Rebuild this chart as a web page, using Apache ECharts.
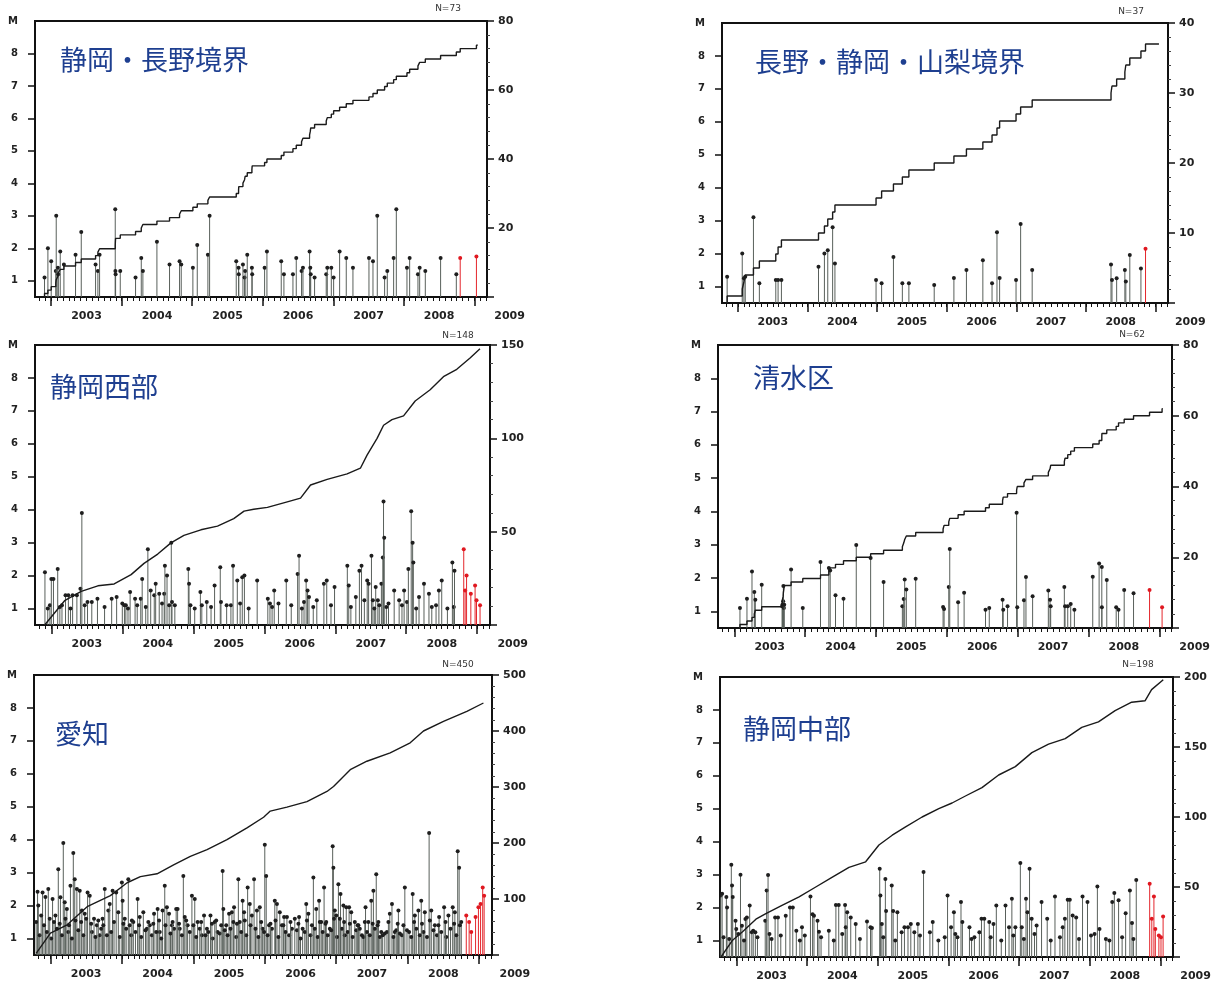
<!DOCTYPE html>
<html><head><meta charset="utf-8">
<script src="https://cdn.jsdelivr.net/npm/echarts@6/dist/echarts.min.js"></script>
<style>html,body{margin:0;padding:0;background:#fff}#c{width:1230px;height:984px}</style>
</head><body><div id="c"></div>
<script>
// ---------- axis / label constants ----------
const XMIN = 2002.77, XMAX = 2009.18, PERIOD_END = 2009.05, M_MIN = 0.5, M_MAX = 9;
const yearLabels = ['2003','2004','2005','2006','2007','2008','2009'];
const yearTicks = [2003,2004,2005,2006,2007,2008,2009];
const mTickValues = [1,2,3,4,5,6,7,8];
const panelNames = ['静岡・長野境界','長野・静岡・山梨境界','静岡西部','清水区','愛知','静岡中部'];
const nLabels = ['N=73','N=37','N=148','N=62','N=450','N=198'];
const countAxisMax = [80,40,150,80,500,200];
const countAxisStep = [20,10,50,20,100,50];

// ---------- data: [decimal year, magnitude] ----------
const p1Events = [[2002.905,1.1],[2002.953,2.0],[2003.000,1.6],[2003.065,1.3],[2003.071,3.0],[2003.095,1.4],[2003.10,1.2],[2003.128,1.9],[2003.180,1.5],[2003.345,1.8],[2003.426,2.5],[2003.629,1.5],[2003.662,1.3],[2003.686,1.8],[2003.908,3.2],[2003.91,1.3],[2003.913,1.2],[2003.979,1.3],
[2004.196,1.1],[2004.277,1.7],[2004.300,1.3],[2004.499,2.2],[2004.678,1.5],[2004.820,1.6],[2004.844,1.5],
[2005.009,1.4],[2005.071,2.1],[2005.222,1.8],[2005.246,3.0],[2005.624,1.6],[2005.657,1.4],[2005.66,1.2],[2005.719,1.5],[2005.742,1.1],[2005.75,1.3],[2005.780,1.8],[2005.846,1.4],[2005.85,1.2],
[2006.026,1.4],[2006.059,1.9],[2006.262,1.6],[2006.30,1.2],[2006.428,1.2],[2006.475,1.7],[2006.55,1.3],[2006.570,1.4],[2006.664,1.9],[2006.674,1.4],[2006.68,1.2],[2006.735,1.1],[2006.90,1.2],[2006.915,1.4],[2006.972,1.4],
[2007.005,1.1],[2007.090,1.9],[2007.184,1.7],[2007.279,1.4],[2007.506,1.7],[2007.563,1.6],[2007.624,3.0],[2007.728,1.1],[2007.766,1.3],[2007.856,1.7],[2007.894,3.2],
[2008.045,1.4],[2008.083,1.7],[2008.201,1.2],[2008.225,1.4],[2008.305,1.3],[2008.522,1.7],[2008.745,1.2]];
const p1Recent = [[2008.80,1.7],[2009.03,1.75]];

const p2Events = [[2002.844,1.3],[2003.061,2.0],[2003.085,1.25],[2003.104,1.3],[2003.222,3.1],[2003.307,1.1],[2003.543,1.2],[2003.576,1.2],[2003.624,1.2],[2004.157,1.6],[2004.242,2.0],[2004.290,2.1],[2004.360,2.8],[2004.393,1.7],[2004.984,1.2],[2005.064,1.1],[2005.234,1.9],[2005.362,1.1],[2005.456,1.1],[2005.820,1.05],[2006.103,1.26],[2006.283,1.5],[2006.519,1.8],[2006.651,1.1],[2006.722,2.65],[2006.760,1.26],[2006.996,1.2],[2007.062,2.9],[2007.228,1.5],[2008.361,1.67],[2008.375,1.2],[2008.442,1.25],[2008.560,1.5],[2008.574,1.15],[2008.631,1.96],[2008.791,1.55]];
const p2Recent = [[2008.857,2.15]];

const p3Events = [[2002.91,2.1],[2002.98,1.1],[2003.00,1.9],[2003.03,1.9],[2003.09,2.2],[2003.15,1.1],[2003.20,1.4],[2003.24,1.4],[2003.30,1.4],[2003.36,1.4],[2003.41,1.6],[2003.43,3.9],[2003.51,1.2],[2003.57,1.2],[2003.65,1.3],[2003.85,1.3],[2003.92,1.35],[2004.00,1.15],[2004.03,1.1],[2004.05,1.1],[2004.11,1.5],[2004.18,1.3],[2004.21,1.1],[2004.26,1.3],[2004.28,1.9],[2004.36,2.8],[2004.40,1.55],[2004.45,1.4],[2004.47,1.75],[2004.52,1.45],[2004.56,1.15],[2004.59,1.45],[2004.60,2.3],[2004.63,2.0],[2004.69,3.0],[2004.70,1.2],[2004.74,1.1],[2004.93,2.2],[2004.94,1.75],[2004.96,1.1],[2005.10,1.5],[2005.12,1.1],[2005.19,1.2],[2005.30,1.7],[2005.38,2.25],[2005.39,1.2],[2005.53,1.1],[2005.56,2.3],[2005.62,1.85],[2005.66,1.15],[2005.69,1.95],[2005.72,2.0],[2005.90,1.85],[2006.05,1.3],[2006.08,1.15],[2006.14,1.55],[2006.20,1.15],[2006.31,1.85],[2006.47,2.05],[2006.49,2.6],[2006.56,1.2],[2006.59,1.85],[2006.61,1.55],[2006.63,1.35],[2006.74,1.25],[2006.84,1.75],[2006.88,1.85],[2006.99,1.65],[2007.17,2.3],[2007.19,1.7],[2007.29,1.35],[2007.34,2.15],[2007.37,2.3],[2007.41,1.25],[2007.45,1.85],[2007.47,1.75],[2007.51,2.6],[2007.53,1.25],[2007.57,1.65],[2007.60,1.25],[2007.65,1.75],[2007.67,2.55],[2007.68,4.25],[2007.69,3.15],[2007.75,1.15],[2007.83,1.55],[2007.90,1.25],[2007.97,1.55],[2008.01,1.2],[2008.03,2.2],[2008.07,3.95],[2008.09,3.0],[2008.10,2.4],[2008.18,1.35],[2008.25,1.75],[2008.32,1.45],[2008.42,1.1],[2008.46,1.55],[2008.50,1.85],[2008.65,2.4],[2008.67,1.05],[2008.68,2.15]];
const p3Small = [[2002.95,1.0],[2003.12,1.05],[2003.27,1.0],[2003.47,1.1],[2003.75,1.05],[2004.08,1.0],[2004.33,1.05],[2004.66,1.1],[2005.02,1.0],[2005.25,1.05],[2005.47,1.1],[2005.78,1.0],[2006.11,1.05],[2006.38,1.1],[2006.53,1.0],[2006.69,1.05],[2006.94,1.1],[2007.22,1.05],[2007.55,1.0],[2007.62,1.1],[2007.72,1.05],[2007.94,1.1],[2008.14,1.0],[2008.36,1.05],[2008.58,1.0]];
const p3Recent = [[2008.81,2.8],[2008.83,1.55],[2008.85,2.0],[2008.91,1.45],[2008.97,1.7],[2008.99,1.25],[2009.04,1.1]];
const p3Cumulative = [[2002.906,0],[2003.187,13],[2003.421,18],[2003.656,21],[2003.885,22],[2004.124,27],[2004.306,33],[2004.499,38],[2004.685,44],[2004.868,48],[2005.107,51],[2005.341,53],[2005.570,57],[2005.715,61],[2005.851,62],[2006.044,63],[2006.324,66],[2006.511,68],[2006.652,75],[2006.886,78],[2007.167,81],[2007.354,84],[2007.448,91],[2007.589,100],[2007.681,107],[2007.799,110],[2007.962,112],[2008.126,120],[2008.337,126],[2008.524,133],[2008.712,137],[2008.899,143],[2009.039,148]];

const p4Events = [[2003.080,1.1],[2003.179,1.38],[2003.250,2.2],[2003.283,1.58],[2003.297,1.35],[2003.387,1.8],[2003.675,1.15],[2003.68,1.2],[2003.69,1.3],[2003.693,1.76],[2003.70,1.1],[2003.705,1.2],[2003.802,2.26],[2003.967,1.1],[2004.217,2.48],[2004.335,2.3],[2004.354,2.23],[2004.429,1.48],[2004.542,1.38],[2004.722,2.99],[2004.925,2.6],[2005.108,1.88],[2005.373,1.15],[2005.392,1.37],[2005.406,1.96],[2005.429,1.66],[2005.561,1.98],[2005.948,1.13],[2005.962,1.07],[2006.028,1.73],[2006.042,2.87],[2006.160,1.27],[2006.245,1.56],[2006.547,1.05],[2006.60,1.1],[2006.788,1.35],[2006.797,1.05],[2006.858,1.15],[2006.986,3.96],[2006.995,1.12],[2007.090,1.33],[2007.118,2.03],[2007.212,1.45],[2007.434,1.63],[2007.458,1.35],[2007.467,1.15],[2007.660,1.73],[2007.670,1.15],[2007.708,1.15],[2007.750,1.22],[2007.802,1.05],[2008.061,2.04],[2008.151,2.44],[2008.189,2.33],[2008.19,1.12],[2008.259,1.94],[2008.392,1.12],[2008.425,1.05],[2008.505,1.64],[2008.637,1.54]];
const p4Recent = [[2008.863,1.64],[2009.040,1.12]];

const p5Events = [[2002.82,2.42],[2002.83,2.0],[2002.89,2.4],[2002.93,2.26],[2002.97,2.5],[2003.03,2.2],[2003.07,1.7],[2003.11,3.1],[2003.14,2.25],[2003.18,3.9],[2003.20,2.1],[2003.23,1.9],[2003.28,2.6],[2003.32,3.6],[2003.34,2.8],[2003.37,2.5],[2003.41,2.45],[2003.44,1.85],[2003.48,1.75],[2003.52,2.4],[2003.55,2.3],[2003.61,1.6],[2003.65,1.4],[2003.69,1.1],[2003.73,1.6],[2003.76,2.5],[2003.81,1.85],[2003.83,2.05],[2003.87,2.45],[2003.92,2.4],[2003.95,1.8],[2004.00,2.7],[2004.01,2.15],[2004.04,1.6],[2004.09,2.8],[2004.11,1.4],[2004.16,1.5],[2004.22,2.2],[2004.25,1.65],[2004.30,1.8],[2004.35,1.3],[2004.39,1.4],[2004.45,1.75],[2004.50,1.9],[2004.53,1.2],[2004.57,1.85],[2004.60,2.6],[2004.63,1.95],[2004.66,1.75],[2004.70,1.4],[2004.76,1.9],[2004.78,1.9],[2004.81,1.3],[2004.86,2.9],[2004.88,1.65],[2004.92,1.4],[2004.98,2.3],[2005.02,2.2],[2005.06,1.5],[2005.12,1.1],[2005.15,1.7],[2005.19,1.3],[2005.24,1.7],[2005.30,1.5],[2005.34,1.2],[2005.41,3.05],[2005.42,1.9],[2005.46,1.4],[2005.50,1.75],[2005.54,1.8],[2005.57,1.95],[2005.63,2.8],[2005.65,1.5],[2005.69,2.15],[2005.71,1.8],[2005.76,2.55],[2005.79,2.05],[2005.82,1.7],[2005.85,2.8],[2005.89,1.85],[2005.93,1.95],[2005.97,1.3],[2006.00,3.85],[2006.02,2.9],[2006.06,1.4],[2006.14,2.15],[2006.17,2.05],[2006.21,1.8],[2006.24,1.4],[2006.27,1.65],[2006.31,1.65],[2006.38,1.3],[2006.42,1.6],[2006.48,1.65],[2006.53,1.3],[2006.58,2.05],[2006.61,1.75],[2006.68,2.85],[2006.72,1.9],[2006.76,2.15],[2006.79,1.5],[2006.83,2.55],[2006.86,1.5],[2006.91,1.3],[2006.95,3.8],[2006.96,3.15],[2006.98,1.85],[2007.03,2.65],[2007.06,2.35],[2007.10,2.0],[2007.14,1.95],[2007.18,1.95],[2007.21,1.8],[2007.26,1.5],[2007.31,1.4],[2007.33,1.3],[2007.41,1.95],[2007.45,1.5],[2007.49,2.15],[2007.52,2.45],[2007.56,2.95],[2007.59,1.5],[2007.63,1.2],[2007.68,1.15],[2007.75,1.75],[2007.78,2.05],[2007.82,1.2],[2007.87,1.85],[2007.89,1.15],[2007.96,2.55],[2007.99,1.25],[2008.07,2.35],[2008.10,1.7],[2008.15,1.85],[2008.19,2.15],[2008.24,1.8],[2008.30,4.2],[2008.33,1.85],[2008.38,1.4],[2008.44,1.65],[2008.51,1.95],[2008.57,1.7],[2008.63,1.95],[2008.66,1.8],[2008.70,3.65],[2008.72,3.15],[2008.75,1.5]];
const p5Small = [[2002.85,1.1],[2002.95,1.2],[2003.01,1.0],[2003.09,1.3],[2003.16,1.1],[2003.25,1.2],[2003.30,1.0],[2003.39,1.25],[2003.46,1.1],[2003.58,1.2],[2003.63,1.05],[2003.71,1.3],[2003.79,1.1],[2003.85,1.2],[2003.97,1.05],[2004.06,1.3],[2004.13,1.1],[2004.19,1.2],[2004.27,1.05],[2004.33,1.25],[2004.42,1.1],[2004.48,1.2],[2004.55,1.0],[2004.68,1.15],[2004.73,1.3],[2004.84,1.1],[2004.95,1.2],[2005.04,1.05],[2005.09,1.3],[2005.17,1.1],[2005.21,1.2],[2005.27,1.0],[2005.37,1.15],[2005.44,1.25],[2005.48,1.1],[2005.52,1.3],[2005.60,1.05],[2005.67,1.2],[2005.74,1.1],[2005.87,1.3],[2005.91,1.05],[2005.99,1.2],[2006.04,1.1],[2006.10,1.3],[2006.19,1.05],[2006.29,1.2],[2006.34,1.1],[2006.45,1.25],[2006.50,1.0],[2006.56,1.2],[2006.64,1.1],[2006.70,1.3],[2006.74,1.05],[2006.81,1.2],[2006.88,1.1],[2006.93,1.25],[2007.01,1.05],[2007.08,1.3],[2007.12,1.1],[2007.16,1.2],[2007.23,1.05],[2007.28,1.25],[2007.36,1.1],[2007.38,1.05],[2007.43,1.2],[2007.47,1.1],[2007.54,1.3],[2007.61,1.05],[2007.65,1.1],[2007.71,1.2],[2007.80,1.05],[2007.84,1.25],[2007.92,1.1],[2008.02,1.2],[2008.05,1.05],[2008.12,1.3],[2008.17,1.1],[2008.22,1.2],[2008.27,1.05],[2008.36,1.25],[2008.41,1.1],[2008.47,1.2],[2008.54,1.05],[2008.60,1.3],[2008.68,1.1]];
const p5Small2 = [[2002.80,1.5],[2002.87,1.7],[2002.91,1.4],[2002.99,1.6],[2003.05,1.5],[2003.13,1.45],[2003.21,1.6],[2003.26,1.4],[2003.35,1.55],[2003.43,1.5],[2003.50,1.6],[2003.57,1.45],[2003.67,1.55],[2003.74,1.4],[2003.89,1.5],[2004.02,1.45],[2004.14,1.55],[2004.24,1.4],[2004.37,1.5],[2004.44,1.45],[2004.52,1.55],[2004.61,1.4],[2004.71,1.5],[2004.80,1.45],[2004.90,1.55],[2005.00,1.4],[2005.11,1.5],[2005.26,1.45],[2005.32,1.55],[2005.39,1.4],[2005.56,1.5],[2005.61,1.45],[2005.72,1.55],[2005.80,1.4],[2005.95,1.5],[2006.08,1.45],[2006.15,1.55],[2006.26,1.4],[2006.36,1.5],[2006.47,1.45],[2006.59,1.55],[2006.66,1.4],[2006.77,1.5],[2006.85,1.45],[2006.97,1.6],[2007.00,1.7],[2007.05,1.6],[2007.11,1.5],[2007.19,1.45],[2007.30,1.4],[2007.40,1.5],[2007.51,1.45],[2007.58,1.4],[2007.73,1.5],[2007.86,1.45],[2007.94,1.4],[2008.09,1.5],[2008.20,1.45],[2008.31,1.55],[2008.43,1.4],[2008.53,1.5],[2008.65,1.45],[2008.73,1.4]];
const p5Recent = [[2008.82,1.7],[2008.86,1.5],[2008.89,1.2],[2008.95,1.65],[2008.99,1.95],[2009.02,2.05],[2009.05,2.55],[2009.07,2.3]];
const p5Cumulative = [[2002.80,3],[2003.0,39],[2003.234,54],[2003.522,87],[2003.839,106],[2004.073,129],[2004.259,140],[2004.492,145],[2004.724,161],[2004.958,176],[2005.192,188],[2005.471,206],[2005.751,227],[2005.983,246],[2006.077,257],[2006.310,264],[2006.590,274],[2006.870,292],[2006.962,301],[2007.196,331],[2007.429,346],[2007.755,361],[2008.035,379],[2008.221,400],[2008.501,417],[2008.828,435],[2009.060,450]];

const p6Events = [[2002.78,2.37],[2002.80,2.42],[2002.86,2.32],[2002.87,2.0],[2002.93,3.3],[2002.94,2.67],[2002.95,2.32],[2002.99,1.6],[2003.00,1.35],[2003.06,3.0],[2003.08,1.45],[2003.13,1.65],[2003.15,1.7],[2003.19,2.06],[2003.22,1.25],[2003.24,1.3],[2003.27,1.25],[2003.41,1.6],[2003.43,2.52],[2003.45,2.99],[2003.47,1.2],[2003.55,1.7],[2003.59,1.7],[2003.70,1.75],[2003.76,2.0],[2003.80,2.0],[2003.85,1.3],[2003.93,1.4],[2003.97,1.15],[2004.05,2.34],[2004.08,1.8],[2004.10,1.75],[2004.15,1.6],[2004.17,1.27],[2004.31,1.3],[2004.41,2.08],[2004.45,2.08],[2004.54,2.08],[2004.55,1.4],[2004.57,1.86],[2004.62,1.7],[2004.69,1.5],[2004.85,1.58],[2004.90,1.4],[2004.92,1.38],[2005.03,3.18],[2005.04,2.37],[2005.06,1.5],[2005.11,2.87],[2005.12,1.9],[2005.20,2.67],[2005.22,1.9],[2005.28,1.86],[2005.34,1.25],[2005.38,1.4],[2005.43,1.4],[2005.47,1.5],[2005.52,1.25],[2005.57,1.5],[2005.65,3.08],[2005.74,1.25],[2005.78,1.56],[2005.95,1.1],[2005.99,2.37],[2006.04,1.4],[2006.08,1.86],[2006.13,1.1],[2006.18,2.17],[2006.20,1.56],[2006.30,1.4],[2006.37,1.1],[2006.44,1.25],[2006.47,1.66],[2006.51,1.66],[2006.58,1.56],[2006.64,1.5],[2006.68,2.06],[2006.81,2.06],[2006.86,1.4],[2006.90,2.27],[2006.95,1.4],[2007.02,3.35],[2007.04,1.4],[2007.10,2.27],[2007.12,1.86],[2007.15,3.18],[2007.18,1.66],[2007.25,1.46],[2007.32,2.17],[2007.40,1.66],[2007.51,2.34],[2007.62,1.4],[2007.65,1.66],[2007.69,2.24],[2007.72,2.24],[2007.76,1.76],[2007.81,1.7],[2007.90,2.34],[2007.97,2.17],[2008.07,1.2],[2008.11,2.64],[2008.14,1.35],[2008.23,1.05],[2008.32,2.17],[2008.35,2.44],[2008.41,2.22],[2008.51,1.83],[2008.57,2.52],[2008.60,1.53],[2008.66,2.84]];
const p6Small = [[2002.82,1.1],[2002.90,1.05],[2003.03,1.2],[2003.11,1.0],[2003.30,1.1],[2003.50,1.05],[2003.63,1.15],[2003.90,1.0],[2004.20,1.1],[2004.38,1.0],[2004.50,1.2],[2004.75,1.05],[2005.08,1.1],[2005.25,1.0],[2005.60,1.15],[2005.86,1.0],[2006.10,1.2],[2006.33,1.05],[2006.60,1.1],[2006.75,1.0],[2006.92,1.15],[2007.07,1.05],[2007.22,1.2],[2007.45,1.0],[2007.58,1.1],[2007.85,1.05],[2008.02,1.15],[2008.28,1.0],[2008.46,1.1],[2008.62,1.05]];
const p6Recent = [[2008.85,2.72],[2008.88,1.66],[2008.91,2.34],[2008.93,1.35],[2008.98,1.15],[2009.01,1.1],[2009.04,1.73]];
const p6Cumulative = [[2002.784,0],[2002.948,12],[2003.089,18],[2003.278,27],[2003.419,31],[2003.654,37],[2003.889,43],[2004.125,50],[2004.360,57],[2004.595,64],[2004.831,68],[2005.019,80],[2005.207,87],[2005.396,93],[2005.630,100],[2005.866,106],[2006.054,110],[2006.243,115],[2006.477,121],[2006.713,130],[2006.949,136],[2007.183,146],[2007.419,152],[2007.655,156],[2007.889,164],[2008.125,168],[2008.361,176],[2008.595,182],[2008.784,183],[2008.877,191],[2009.042,198]];

// ---------- layout (pixels) ----------
const BOX = [
  {left:35, top:21, width:452, height:276},
  {left:722, top:23, width:446, height:280},
  {left:35, top:345, width:455, height:280},
  {left:718, top:345, width:454, height:283},
  {left:34, top:675, width:458, height:280},
  {left:720, top:677, width:453, height:280}
];
const TITLE_POS = [[60,60],[755,62],[50,387],[753,378],[55,734],[743,729]];
const NLABEL_POS = [[448,9],[1131,12],[458,336],[1132,335],[458,665],[1138,665]];
const LABEL_EXT = 45;

function cumulativeFromEvents(ev, red) {
  const times = ev.concat(red).map(d => d[0]).sort((a, b) => a - b);
  const out = [[times[0], 0]];
  times.forEach((t, i) => out.push([t, i + 1]));
  out.push([PERIOD_END, times.length]);
  return out;
}

const panels = [
  {ev:p1Events, red:p1Recent, cum:null},
  {ev:p2Events, red:p2Recent, cum:null},
  {ev:p3Events.concat(p3Small), red:p3Recent, cum:p3Cumulative},
  {ev:p4Events, red:p4Recent, cum:null},
  {ev:p5Events.concat(p5Small, p5Small2), red:p5Recent, cum:p5Cumulative},
  {ev:p6Events.concat(p6Small), red:p6Recent, cum:p6Cumulative}
];

const monthTicks = [];
for (let k = 0; k <= 80; k++) {
  const v = 2002.75 + k / 12;
  if (v >= XMIN && v <= XMAX) monthTicks.push(v);
}

function stemRenderer(stemColor, dotColor) {
  return function (params, api) {
    const t = api.value(0), m = api.value(1);
    const top = api.coord([t, m]);
    const base = api.coord([t, M_MIN]);
    return {
      type: 'group',
      children: [
        {type:'line', shape:{x1:top[0], y1:base[1], x2:top[0], y2:top[1]}, style:{stroke:stemColor, lineWidth:1}},
        {type:'circle', shape:{cx:top[0], cy:top[1], r:2}, style:{fill:dotColor}}
      ]
    };
  };
}

const grid = [], xAxis = [], yAxis = [], series = [], graphic = [];
const tickFont = 'DejaVu Sans';

panels.forEach((p, i) => {
  const b = BOX[i];
  const g = grid.length;
  grid.push({left:b.left, top:b.top, width:b.width, height:b.height, show:true, borderColor:'#111', borderWidth:2, backgroundColor:'transparent'});
  grid.push({left:b.left, top:b.top, width:b.width + LABEL_EXT, height:b.height, show:false});

  const xi = xAxis.length;
  xAxis.push({type:'value', gridIndex:g, position:'bottom', min:XMIN, max:XMAX,
    axisLine:{show:false}, splitLine:{show:false}, axisLabel:{show:false},
    axisTick:{show:true, customValues:monthTicks, length:4, lineStyle:{color:'#111', width:1}}});
  xAxis.push({type:'value', gridIndex:g, position:'bottom', min:XMIN, max:XMAX,
    axisLine:{show:false}, splitLine:{show:false}, axisLabel:{show:false},
    axisTick:{show:true, customValues:yearTicks, length:9, lineStyle:{color:'#111', width:1.5}}});
  const labMax = XMIN + (XMAX - XMIN) * (b.width + LABEL_EXT) / b.width;
  xAxis.push({type:'value', gridIndex:g + 1, position:'bottom', min:XMIN, max:labMax,
    axisLine:{show:false}, axisTick:{show:false}, splitLine:{show:false},
    axisLabel:{show:true, customValues:yearTicks.map(y => y + 0.5),
      formatter: v => yearLabels[Math.round(v - 2003.5)] || '',
      margin:14, fontSize:11, fontWeight:'bold', color:'#222', fontFamily:tickFont}});

  const yi = yAxis.length;
  yAxis.push({type:'value', gridIndex:g, position:'left', min:M_MIN, max:M_MAX,
    axisLine:{show:false}, splitLine:{show:false},
    axisTick:{show:true, customValues:mTickValues, length:7, lineStyle:{color:'#111', width:1.5}},
    axisLabel:{customValues:mTickValues.concat([M_MAX]), formatter: v => (v === M_MAX ? 'M' : String(v)),
      margin:17, fontSize:10, fontWeight:'bold', color:'#222', fontFamily:tickFont}});
  yAxis.push({type:'value', gridIndex:g, position:'right', min:0, max:countAxisMax[i], interval:countAxisStep[i],
    axisLine:{show:false}, splitLine:{show:false},
    axisTick:{show:true, length:7, lineStyle:{color:'#111', width:1.5}},
    minorTick:{show:true, splitNumber:5, length:3, lineStyle:{color:'#444', width:1}},
    axisLabel:{showMinLabel:false, formatter: v => (v === 0 ? '' : String(v)),
      margin:11, fontSize:11, fontWeight:'bold', color:'#222', fontFamily:tickFont}});
  yAxis.push({type:'value', gridIndex:g + 1, show:false, min:0, max:1});

  series.push({type:'custom', xAxisIndex:xi, yAxisIndex:yi, data:p.ev, encode:{x:0, y:1},
    renderItem:stemRenderer('#59605b', '#1e1e1e'), clip:true, z:2, silent:true});
  series.push({type:'custom', xAxisIndex:xi, yAxisIndex:yi, data:p.red, encode:{x:0, y:1},
    renderItem:stemRenderer('#e4262c', '#e01820'), clip:true, z:2, silent:true});
  series.push({type:'line', xAxisIndex:xi, yAxisIndex:yi + 1,
    data: p.cum ? p.cum : cumulativeFromEvents(p.ev, p.red),
    step: p.cum ? false : 'end', showSymbol:false, symbol:'none',
    lineStyle:{color:'#1a1a1a', width:1.4}, z:3, silent:true, clip:true});

  graphic.push({type:'text', x:TITLE_POS[i][0], y:TITLE_POS[i][1], z:10,
    style:{text:panelNames[i], fontSize:27, fontFamily:'"Noto Sans CJK JP"', fill:'#1e3f90', align:'left', verticalAlign:'middle'}});
  graphic.push({type:'text', x:NLABEL_POS[i][0], y:NLABEL_POS[i][1], z:10,
    style:{text:nLabels[i], fontSize:9, fontFamily:tickFont, fill:'#333', align:'center', verticalAlign:'middle'}});
});

const chart = echarts.init(document.getElementById('c'), null, {renderer:'canvas'});
chart.setOption({
  animation:false,
  backgroundColor:'#ffffff',
  grid, xAxis, yAxis, series, graphic
});
</script></body></html>
